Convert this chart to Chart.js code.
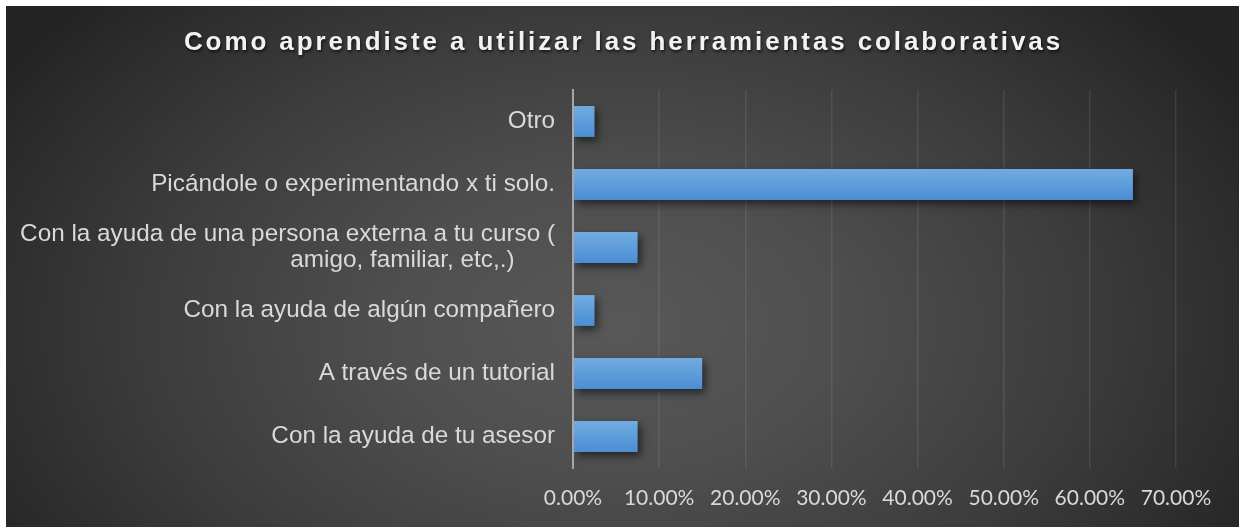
<!DOCTYPE html>
<html>
<head>
<meta charset="utf-8">
<script src="https://cdn.jsdelivr.net/npm/chart.js@4.4.1/dist/chart.umd.min.js"></script>
<style>
  html, body { margin: 0; padding: 0; background: #fff; }
  #wrap {
    position: absolute; left: 6px; top: 6px; width: 1233px; height: 521px;
    background: radial-gradient(ellipse 720px 470px at 610px 320px,
      #585858 0%, #4f4f4f 30%, #3c3c3c 65%, #2a2a2a 92%, #242424 100%);
  }
</style>
</head>
<body>
<div id="wrap"><canvas id="chart"></canvas></div>
<script>
const TITLE = "Como aprendiste a utilizar las herramientas colaborativas";

// top to bottom, as in the picture
const CATEGORIES = [
  "Otro",
  "Picándole o experimentando x ti solo.",
  ["Con la ayuda de una persona externa a tu curso (", "amigo, familiar, etc,.)      "],
  "Con la ayuda de algún compañero",
  "A través de un tutorial",
  "Con la ayuda de tu asesor"
];
const VALUES = [2.5, 65, 7.5, 2.5, 15, 7.5];   // percent
const X_MAX = 70;
const X_STEP = 10;

const TEXT = "#d9d9d9";
const BAR_PCT = 0.49;

// vertical blue gradient per bar
function barFill(c){
  const chart = c.chart;
  const y = chart.scales.y;
  if (!y || !chart.chartArea) return "#5b9bd5";
  const mid = y.getPixelForValue(c.dataIndex);
  const half = y.height / CATEGORIES.length * BAR_PCT / 2;
  const g = chart.ctx.createLinearGradient(0, mid - half, 0, mid + half);
  g.addColorStop(0, "#72abe2");
  g.addColorStop(1, "#4a8ed3");
  return g;
}

const barShadow = {
  id: "barShadow",
  beforeDatasetsDraw(chart){
    const ctx = chart.ctx;
    ctx.save();
    ctx.shadowColor = "rgba(0,0,0,0.55)";
    ctx.shadowBlur = 8;
    ctx.shadowOffsetX = 3;
    ctx.shadowOffsetY = 4;
  },
  afterDatasetsDraw(chart){ chart.ctx.restore(); }
};

const titleText = {
  id: "titleText",
  afterDraw(chart){
    const ctx = chart.ctx;
    ctx.save();
    ctx.font = "bold 26px 'Liberation Sans', Arial, sans-serif";
    ctx.letterSpacing = "2.9px";
    ctx.textAlign = "center";
    ctx.textBaseline = "middle";
    ctx.fillStyle = "#f2f2f2";
    ctx.shadowColor = "rgba(0,0,0,0.65)";
    ctx.shadowBlur = 3;
    ctx.shadowOffsetX = 1;
    ctx.shadowOffsetY = 2;
    ctx.fillText(TITLE, chart.width / 2 + 1, 37);
    ctx.restore();
  }
};

new Chart(document.getElementById("chart"), {
  type: "bar",
  data: {
    labels: CATEGORIES,
    datasets: [{
      data: VALUES,
      backgroundColor: barFill,
      borderWidth: 0,
      barPercentage: BAR_PCT,
      categoryPercentage: 1
    }]
  },
  options: {
    indexAxis: "y",
    responsive: true,
    maintainAspectRatio: false,
    animation: false,
    layout: { padding: { top: 84, right: 63, left: 0, bottom: 0 } },
    plugins: {
      legend: { display: false },
      tooltip: { enabled: false },
      title: { display: false }
    },
    scales: {
      y: {
        type: "category",
        grid: { display: false, drawTicks: false },
        border: { display: true, color: "#a6a6a6", width: 2, z: 1 },
        ticks: {
          color: TEXT,
          padding: 18,
          font: { family: "'Liberation Sans', Arial, sans-serif", size: 24.3, lineHeight: 1.07 }
        },
        afterFit(scale){ scale.width = 567; }
      },
      x: {
        min: 0,
        max: X_MAX,
        grid: { color: "rgba(255,255,255,0.09)", lineWidth: 1.5, drawTicks: false },
        border: { display: false },
        ticks: {
          stepSize: X_STEP,
          color: TEXT,
          padding: 18,
          font: { family: "Lato, 'Open Sans', sans-serif", size: 21 },
          callback: (v) => v.toFixed(2) + "%"
        },
        afterFit(scale){ scale.height = 59; }
      }
    }
  },
  plugins: [barShadow, titleText]
});
</script>
</body>
</html>
